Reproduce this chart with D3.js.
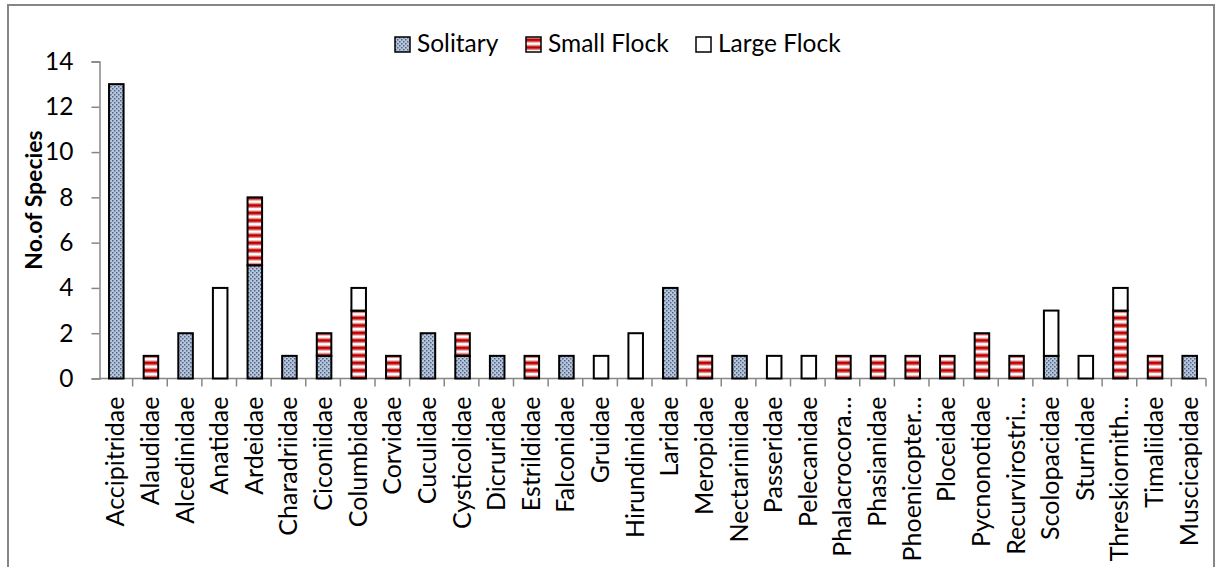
<!DOCTYPE html>
<html>
<head>
<meta charset="utf-8">
<script src="https://cdn.jsdelivr.net/npm/d3@7"></script>
<style>
  body { margin: 0; background: #fff; }
  svg { display: block; font-family: Lato, "Open Sans", sans-serif; }
</style>
</head>
<body>
<svg width="1216" height="567"></svg>
<script>
const families = ['Accipitridae', 'Alaudidae', 'Alcedinidae', 'Anatidae', 'Ardeidae', 'Charadriidae',
  'Ciconiidae', 'Columbidae', 'Corvidae', 'Cuculidae', 'Cysticolidae', 'Dicruridae', 'Estrildidae',
  'Falconidae', 'Gruidae', 'Hirundinidae', 'Laridae', 'Meropidae', 'Nectariniidae', 'Passeridae',
  'Pelecanidae', 'Phalacrocora\u2026', 'Phasianidae', 'Phoenicopter\u2026', 'Ploceidae', 'Pycnonotidae',
  'Recurvirostri\u2026', 'Scolopacidae', 'Sturnidae', 'Threskiornith\u2026', 'Timaliidae', 'Muscicapidae'];

const solitary   = [13, 0, 2, 0, 5, 1, 1, 0, 0, 2, 1, 1, 0, 1, 0, 0, 4, 0, 1, 0, 0, 0, 0, 0, 0, 0, 0, 1, 0, 0, 0, 1];
const smallFlock = [0, 1, 0, 0, 3, 0, 1, 3, 1, 0, 1, 0, 1, 0, 0, 0, 0, 1, 0, 0, 0, 1, 1, 1, 1, 2, 1, 0, 0, 3, 1, 0];
const largeFlock = [0, 0, 0, 4, 0, 0, 0, 1, 0, 0, 0, 0, 0, 0, 1, 2, 0, 0, 0, 1, 1, 0, 0, 0, 0, 0, 0, 2, 1, 1, 0, 0];

const seriesNames = ['Solitary', 'Small Flock', 'Large Flock'];
const yTicks = [0, 2, 4, 6, 8, 10, 12, 14];

const svg = d3.select('svg');
const width = +svg.attr('width');
const height = +svg.attr('height');

// chart frame
svg.append('rect')
  .attr('x', 8).attr('y', 5)
  .attr('width', 1206).attr('height', 570)
  .attr('fill', 'none').attr('stroke', '#868686').attr('stroke-width', 2);

// fill patterns
const defs = svg.append('defs');
const dots = defs.append('pattern')
  .attr('id', 'solitary').attr('patternUnits', 'userSpaceOnUse')
  .attr('width', 4).attr('height', 4);
dots.append('rect').attr('width', 4).attr('height', 4).attr('fill', '#b8c6da');
dots.append('rect').attr('x', 0).attr('y', 0).attr('width', 1.5).attr('height', 1.5).attr('fill', '#4c6289');
dots.append('rect').attr('x', 2).attr('y', 2).attr('width', 1.5).attr('height', 1.5).attr('fill', '#4c6289');

const stripes = defs.append('pattern')
  .attr('id', 'small').attr('patternUnits', 'userSpaceOnUse')
  .attr('width', 8).attr('height', 7.5);
stripes.append('rect').attr('width', 8).attr('height', 7.5).attr('fill', '#fff');
stripes.append('rect').attr('y', 0.5).attr('width', 8).attr('height', 1).attr('fill', '#e08080');
stripes.append('rect').attr('y', 1.5).attr('width', 8).attr('height', 3).attr('fill', '#c00000');
stripes.append('rect').attr('y', 4.5).attr('width', 8).attr('height', 1).attr('fill', '#e08080');

const fills = ['url(#solitary)', 'url(#small)', '#fff'];

const x = d3.scaleBand().domain(families).range([98, 1206]);
const y = d3.scaleLinear().domain([0, 14]).range([378.5, 61.5]);

const table = families.map((f, i) => ({
  family: f, 'Solitary': solitary[i], 'Small Flock': smallFlock[i], 'Large Flock': largeFlock[i]
}));
const stacked = d3.stack().keys(seriesNames)(table);

const barW = x.bandwidth() * 0.42;

// axes
const yAxis = d3.axisLeft(y).tickValues(yTicks).tickSize(8).tickPadding(18);
const yG = svg.append('g').attr('transform', 'translate(99.5,0)').call(yAxis);
yG.select('.domain').attr('stroke', '#868686').attr('stroke-width', 1.5);
yG.selectAll('.tick line').attr('stroke', '#868686').attr('stroke-width', 1.5);
yG.selectAll('.tick text').attr('font-size', 24.5).attr('fill', '#000')
  .attr('font-family', 'Lato, sans-serif');

// x axis baseline and boundary ticks
svg.append('line')
  .attr('x1', 99.5).attr('x2', 1206)
  .attr('y1', y(0)).attr('y2', y(0))
  .attr('stroke', '#868686').attr('stroke-width', 1.5);
svg.append('g').selectAll('line')
  .data(families.slice(1).concat(['end']))
  .join('line')
  .attr('x1', d => d === 'end' ? 1206 : x(d))
  .attr('x2', d => d === 'end' ? 1206 : x(d))
  .attr('y1', y(0)).attr('y2', y(0) + 8)
  .attr('stroke', '#868686').attr('stroke-width', 1.5);

// bars
svg.append('g').selectAll('g')
  .data(stacked)
  .join('g')
  .attr('fill', (d, i) => fills[i])
  .selectAll('rect')
  .data(d => d.filter(p => p[1] > p[0]))
  .join('rect')
  .attr('x', d => x(d.data.family) + (x.bandwidth() - barW) / 2 + 1)
  .attr('y', d => y(d[1]))
  .attr('width', barW)
  .attr('height', d => y(d[0]) - y(d[1]))
  .attr('stroke', '#000')
  .attr('stroke-width', 2);

// category labels
svg.append('g').selectAll('text')
  .data(families)
  .join('text')
  .attr('transform', d => `translate(${x(d) + x.bandwidth() / 2 + 9},${y(0) + 18}) rotate(-90)`)
  .attr('text-anchor', 'end')
  .attr('font-size', 25)
  .text(d => d);

// y title
svg.append('text')
  .attr('transform', 'translate(42,200) rotate(-90)')
  .attr('text-anchor', 'middle')
  .attr('font-size', 23)
  .attr('font-weight', 'bold')
  .text('No.of Species');

// legend
const legendX = [395, 526, 696];
const lg = svg.append('g').selectAll('g')
  .data(seriesNames)
  .join('g')
  .attr('transform', (d, i) => `translate(${legendX[i]},37)`);
lg.append('rect')
  .attr('width', 15).attr('height', 15)
  .attr('fill', (d, i) => fills[i])
  .attr('stroke', '#000').attr('stroke-width', 1.5);
lg.append('text')
  .attr('x', 22).attr('y', 15)
  .attr('font-size', 24.5)
  .text(d => d);
</script>
</body>
</html>
